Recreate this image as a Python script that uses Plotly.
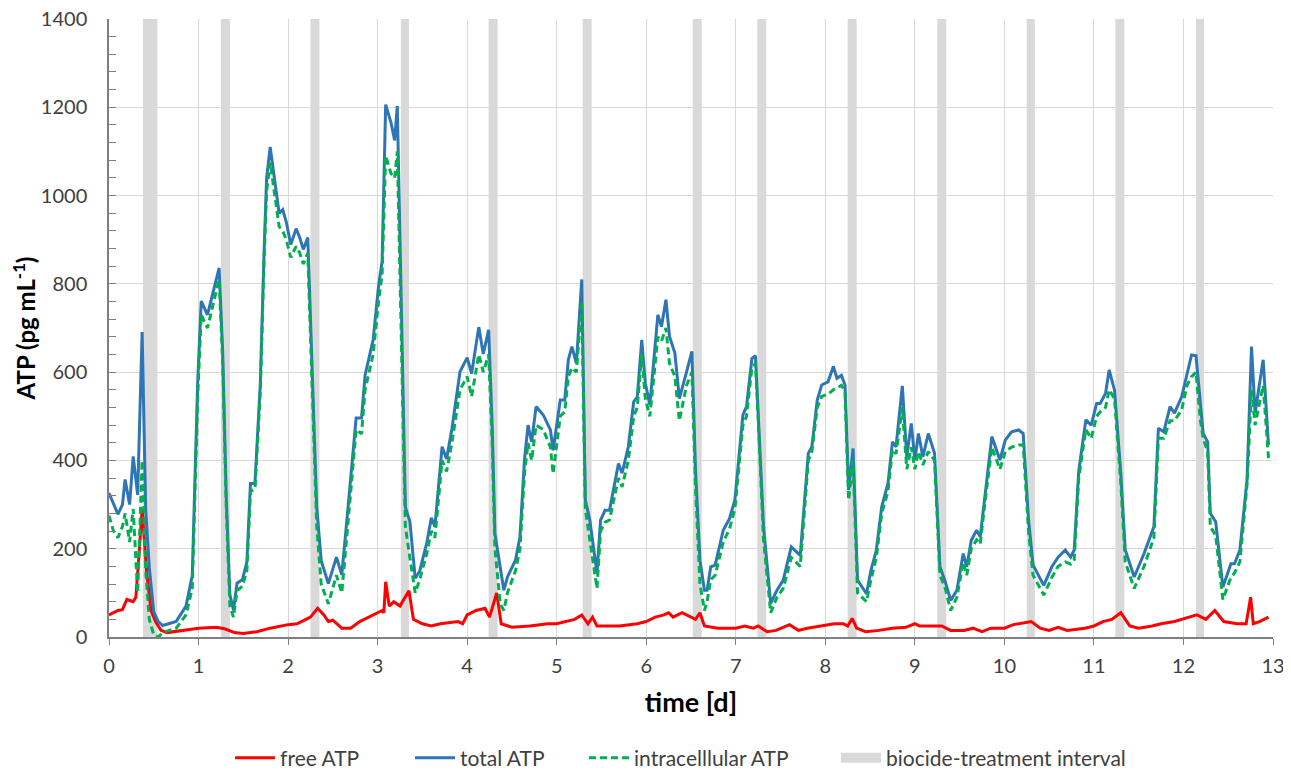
import plotly.graph_objects as go

# ---- data ----
t_total = [0.00, 0.05, 0.10, 0.15, 0.18, 0.23, 0.27, 0.32, 0.37, 0.41, 0.45, 0.50, 0.55,
           0.60, 0.75, 0.86, 0.93, 0.99, 1.03, 1.10, 1.17, 1.23, 1.27, 1.31, 1.35, 1.39,
           1.43, 1.49, 1.54, 1.58, 1.63, 1.69, 1.73, 1.76, 1.80, 1.86, 1.90, 1.94, 1.98,
           2.03, 2.09, 2.13, 2.17, 2.22, 2.27, 2.32, 2.37, 2.45, 2.54, 2.60, 2.67, 2.76,
           2.82, 2.86, 2.95, 3.01, 3.05, 3.09, 3.15, 3.19, 3.22, 3.26, 3.31, 3.36, 3.42,
           3.47, 3.55, 3.60, 3.64, 3.72, 3.77, 3.83, 3.92, 4.00, 4.05, 4.13, 4.18, 4.24,
           4.28, 4.31, 4.37, 4.41, 4.45, 4.54, 4.59, 4.64, 4.68, 4.72, 4.77, 4.85, 4.93,
           4.96, 5.04, 5.09, 5.13, 5.17, 5.22, 5.28, 5.32, 5.37, 5.45, 5.49, 5.54, 5.59,
           5.69, 5.73, 5.80, 5.86, 5.90, 5.95, 5.99, 6.04, 6.13, 6.17, 6.22, 6.26, 6.32,
           6.37, 6.45, 6.51, 6.55, 6.60, 6.65, 6.68, 6.72, 6.77, 6.86, 6.93, 6.99, 7.08,
           7.12, 7.18, 7.22, 7.26, 7.31, 7.39, 7.46, 7.53, 7.62, 7.72, 7.81, 7.85, 7.91,
           7.96, 8.03, 8.09, 8.13, 8.18, 8.22, 8.26, 8.31, 8.36, 8.46, 8.51, 8.57, 8.63,
           8.70, 8.75, 8.79, 8.86, 8.91, 8.96, 9.00, 9.04, 9.09, 9.15, 9.22, 9.28, 9.34,
           9.40, 9.47, 9.54, 9.58, 9.63, 9.69, 9.73, 9.78, 9.86, 9.95, 10.01, 10.08, 10.16,
           10.21, 10.27, 10.32, 10.44, 10.53, 10.60, 10.68, 10.74, 10.78, 10.83, 10.91,
           10.97, 11.03, 11.07, 11.13, 11.17, 11.23, 11.30, 11.35, 11.45, 11.56, 11.67,
           11.72, 11.78, 11.85, 11.90, 11.98, 12.04, 12.09, 12.14, 12.19, 12.22, 12.27,
           12.30, 12.36, 12.44, 12.53, 12.57, 12.63, 12.71, 12.76, 12.80, 12.89, 12.95]

total_atp = [326, 300, 278, 300, 357, 300, 409, 322, 691, 287, 157, 57, 35,
             26, 35, 70, 139, 574, 761, 730, 791, 836, 643, 313, 96, 61,
             122, 130, 170, 348, 348, 574, 861, 1039, 1110, 1020, 960, 968, 940,
             889, 925, 905, 878, 905, 600, 294, 173, 121, 181, 141, 294, 496,
             496, 593, 673, 794, 851, 1206, 1165, 1125, 1203, 778, 294, 262, 133,
             149, 214, 270, 250, 431, 403, 472, 601, 633, 597, 702, 641, 696,
             476, 234, 151, 106, 136, 174, 227, 401, 480, 442, 522, 503, 469,
             423, 537, 537, 628, 658, 620, 810, 310, 265, 144, 265, 287, 287,
             393, 371, 431, 533, 544, 673, 575, 526, 730, 703, 764, 681, 643,
             540, 600, 647, 380, 174, 106, 106, 159, 163, 242, 268, 310, 503,
             522, 631, 637, 476, 250, 76, 106, 129, 204, 185, 416, 431, 537,
             571, 578, 613, 586, 593, 571, 333, 427, 129, 98, 151, 197, 295,
             348, 442, 431, 569, 408, 484, 401, 461, 408, 461, 416, 159, 125,
             83, 106, 189, 159, 219, 242, 227, 318, 454, 401, 446, 465, 469,
             461, 265, 163, 117, 159, 181, 197, 181, 197, 375, 492,
             480, 529, 529, 552, 605, 559, 371, 197, 136, 189, 250,
             473, 465, 522, 507, 544, 597, 639, 637, 522, 461, 442,
             280, 261, 113, 166, 166, 197, 356, 658, 507, 628, 435]

intracellular_atp = [275, 240, 225, 250, 280, 215, 290, 100, 400, 150, 40, 5, 0,
                     10, 20, 50, 110, 540, 730, 700, 760, 810, 620, 290, 70, 45,
                     105, 115, 150, 330, 335, 555, 840, 1010, 1075, 990, 930, 920, 900,
                     860, 885, 870, 845, 870, 560, 250, 120, 75, 140, 100, 260, 470,
                     460, 560, 640, 760, 820, 1090, 1050, 1040, 1100, 740, 250, 180, 100,
                     130, 190, 240, 225, 400, 375, 440, 560, 590, 545, 640, 600, 640,
                     440, 200, 75, 60, 100, 150, 200, 370, 440, 400, 480, 470, 430,
                     370, 500, 510, 590, 610, 600, 760, 290, 220, 110, 240, 260, 265,
                     360, 340, 400, 500, 520, 640, 540, 500, 680, 670, 700, 620, 590,
                     490, 570, 600, 340, 120, 60, 80, 130, 140, 215, 245, 290, 480,
                     500, 610, 620, 450, 220, 55, 90, 110, 180, 160, 400, 420, 520,
                     545, 550, 560, 565, 570, 555, 310, 400, 100, 80, 130, 180, 280,
                     330, 425, 415, 520, 380, 430, 380, 420, 390, 420, 400, 140, 110,
                     60, 90, 170, 140, 200, 220, 210, 300, 430, 380, 420, 430, 435,
                     435, 240, 140, 95, 135, 160, 170, 165, 175, 360, 470,
                     450, 500, 510, 520, 560, 540, 350, 170, 110, 160, 225,
                     450, 450, 490, 490, 515, 570, 590, 600, 490, 450, 420,
                     250, 230, 85, 135, 145, 170, 345, 560, 480, 570, 405]

t_free = [0.00, 0.05, 0.10, 0.15, 0.20, 0.27, 0.30, 0.34, 0.37, 0.42, 0.47, 0.52, 0.58,
          0.65, 0.80, 1.00, 1.20, 1.30, 1.40, 1.50, 1.65, 1.80, 2.00, 2.10, 2.20,
          2.25, 2.33, 2.40, 2.45, 2.50, 2.60, 2.70, 2.80, 2.95, 3.05, 3.07, 3.09,
          3.13, 3.18, 3.25, 3.35, 3.40, 3.50, 3.60, 3.70, 3.90, 3.95, 4.00, 4.10,
          4.20, 4.25, 4.33, 4.38, 4.50, 4.70, 4.90, 5.00, 5.20, 5.28, 5.35, 5.40,
          5.45, 5.70, 5.90, 6.00, 6.10, 6.20, 6.25, 6.30, 6.40, 6.50, 6.55, 6.60,
          6.65, 6.80, 7.00, 7.10, 7.20, 7.25, 7.35, 7.45, 7.60, 7.70, 7.80, 7.95,
          8.10, 8.20, 8.25, 8.30, 8.35, 8.45, 8.60, 8.75, 8.90, 9.00, 9.05, 9.30,
          9.40, 9.55, 9.65, 9.75, 9.85, 10.00, 10.10, 10.30, 10.40, 10.50, 10.60,
          10.70, 10.90, 11.00, 11.10, 11.20, 11.30, 11.40, 11.50, 11.65, 11.75,
          11.90, 12.05, 12.15, 12.25, 12.35, 12.45, 12.60, 12.70, 12.75, 12.78,
          12.85, 12.95]

free_atp = [50, 55, 60, 62, 85, 80, 90, 200, 290, 148, 60, 35, 15,
            10, 15, 20, 22, 18, 10, 8, 12, 20, 28, 30, 40,
            45, 65, 50, 35, 38, 20, 20, 35, 50, 60, 55, 125,
            70, 80, 70, 105, 40, 30, 25, 30, 35, 30, 50, 60,
            65, 45, 100, 30, 22, 25, 30, 30, 40, 50, 30, 45,
            25, 25, 30, 35, 45, 50, 55, 45, 55, 45, 40, 55,
            25, 20, 20, 25, 20, 25, 12, 15, 28, 15, 20, 25,
            30, 30, 25, 42, 20, 12, 15, 20, 22, 30, 25, 25,
            15, 15, 20, 12, 20, 20, 28, 35, 20, 15, 22,
            15, 20, 25, 35, 40, 55, 25, 20, 25, 30,
            35, 45, 50, 40, 60, 35, 30, 30, 90, 30,
            35, 45]

biocide_start = [0.38, 1.25, 2.25, 3.26, 4.24, 5.29, 6.52, 7.24, 8.25, 9.25, 10.25, 11.24, 12.14]
biocide_end = [0.54, 1.35, 2.35, 3.35, 4.34, 5.39, 6.62, 7.34, 8.35, 9.35, 10.34, 11.34, 12.23]

series_names = ["free ATP", "total ATP", "intracelllular ATP", "biocide-treatment interval"]

FONT = "Lato"
TXT = "#404040"

fig = go.Figure()

fig.add_trace(go.Scatter(x=t_free, y=free_atp, mode="lines", name=series_names[0],
                         legend="legend", line=dict(color="#FF0000", width=3)))
fig.add_trace(go.Scatter(x=t_total, y=total_atp, mode="lines", name=series_names[1],
                         legend="legend2", line=dict(color="#2E75B6", width=3)))
fig.add_trace(go.Scatter(x=t_total, y=intracellular_atp, mode="lines", name=series_names[2],
                         legend="legend3", line=dict(color="#00B050", width=3, dash="7px,4px")))
fig.add_trace(go.Scatter(x=[None], y=[None], mode="lines", name=series_names[3],
                         legend="legend4", line=dict(color="#D9D9D9", width=10)))

shapes = []
for s, e in zip(biocide_start, biocide_end):
    shapes.append(dict(type="rect", xref="x", yref="paper", x0=s, x1=e, y0=0, y1=1,
                       fillcolor="#D9D9D9", line=dict(width=0), layer="below"))


def legend_box(xpos):
    return dict(orientation="h", x=xpos, xanchor="left", y=-0.196, yanchor="middle",
                font=dict(family=FONT, size=21, color=TXT), itemwidth=40,
                bgcolor="rgba(0,0,0,0)")


# the page body adds an 8px offset, so the figure is sized/margined to compensate
fig.update_layout(
    width=1283, height=763, autosize=False,
    margin=dict(l=101, r=18, t=11, b=134, autoexpand=False),
    paper_bgcolor="white", plot_bgcolor="white",
    font=dict(family=FONT, size=20, color=TXT),
    shapes=shapes,
    showlegend=True,
    legend=legend_box(0.1040),
    legend2=legend_box(0.2586),
    legend3=legend_box(0.4081),
    legend4=legend_box(0.6246),
    xaxis=dict(range=[0, 13], dtick=1, tick0=0, showgrid=True, gridcolor="#D9D9D9", gridwidth=1,
               showline=True, linecolor="#7F7F7F", linewidth=1.5, ticks="outside",
               ticklen=6, tickcolor="#7F7F7F", zeroline=False, ticklabelstandoff=4,
               ticklabeloverflow="allow",
               tickfont=dict(family=FONT, size=20, color=TXT),
               title=dict(text="<b>time [d]</b>", font=dict(family=FONT, size=27, color="#000000"),
                          standoff=17)),
    yaxis=dict(range=[0, 1400], dtick=200, tick0=0, showgrid=True, gridcolor="#D9D9D9", gridwidth=1,
               showline=True, linecolor="#7F7F7F", linewidth=1.5, ticks="inside",
               ticklen=7, tickcolor="#7F7F7F", zeroline=False, ticklabelstandoff=16,
               ticklabeloverflow="allow",
               minor=dict(dtick=40, ticks="inside", ticklen=7, tickcolor="#7F7F7F", showgrid=False),
               tickfont=dict(family=FONT, size=20, color=TXT),
               title=dict(text="<b>ATP (pg mL<sup>-1</sup>)</b>",
                          font=dict(family=FONT, size=24, color="#000000"), standoff=6)),
)

fig.write_html("out.html")
